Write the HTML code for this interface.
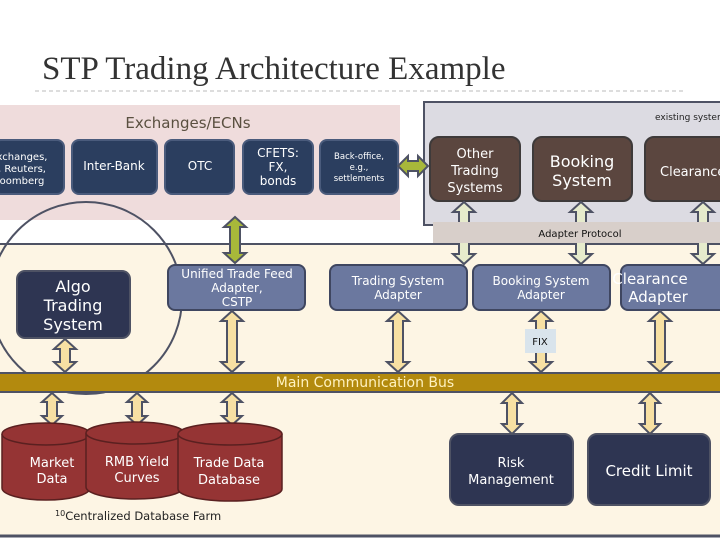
<!DOCTYPE html>
<html><head><meta charset="utf-8"><style>
body{margin:0;width:720px;height:540px;overflow:hidden;background:#fff}
svg{display:block}
text{font-family:"DejaVu Sans","Liberation Sans",sans-serif}
</style></head><body>
<svg width="720" height="540" viewBox="0 0 720 540" xmlns="http://www.w3.org/2000/svg">
<text x="42" y="79" font-size="33" fill="#333" style="font-family:'Liberation Serif',serif">STP Trading Architecture Example</text>
<line x1="35" y1="91" x2="685" y2="91" stroke="#bbb" stroke-dasharray="4,3"/>
<rect x="0" y="105" width="400" height="115" fill="#efdcdc"/>
<text x="188" y="128" font-size="15" fill="#5a5040" text-anchor="middle">Exchanges/ECNs</text>
<rect x="424" y="102" width="300" height="123" fill="#dcdbe2" stroke="#4e5264" stroke-width="2"/>
<text x="655" y="120" font-size="9" fill="#222">existing systems</text>
<rect x="0" y="244" width="720" height="292" fill="#fdf5e4"/>
<line x1="0" y1="244" x2="720" y2="244" stroke="#4e5264" stroke-width="2"/>
<line x1="0" y1="536" x2="720" y2="536" stroke="#4e5264" stroke-width="3"/>
<g fill="#2b3e5f" stroke="#4a5b7c" stroke-width="2">
<rect x="-6" y="140" width="70" height="54" rx="7"/>
<rect x="72" y="140" width="85" height="54" rx="7"/>
<rect x="165" y="140" width="69" height="54" rx="7"/>
<rect x="243" y="140" width="70" height="54" rx="7"/>
<rect x="320" y="140" width="78" height="54" rx="7"/>
</g>
<g fill="#fff" font-size="10" text-anchor="middle">
<text x="22" y="160">xchanges,</text><text x="22" y="172">, Reuters,</text><text x="22" y="184">oomberg</text>
<text x="114" y="170" font-size="12">Inter-Bank</text>
<text x="200" y="170" font-size="12">OTC</text>
<text x="278" y="157" font-size="12">CFETS:</text><text x="278" y="171" font-size="12">FX,</text><text x="278" y="185" font-size="12">bonds</text>
<text x="359" y="159" font-size="8.5">Back-office,</text><text x="359" y="170" font-size="8.5">e.g.,</text><text x="359" y="181" font-size="8.5">settlements</text>
</g>
<g fill="#5b463f" stroke="#3e3a3a" stroke-width="2">
<rect x="430" y="137" width="90" height="64" rx="9"/>
<rect x="533" y="137" width="99" height="64" rx="9"/>
<rect x="645" y="137" width="90" height="64" rx="9"/>
</g>
<g fill="#fff" text-anchor="middle">
<text x="475" y="158" font-size="13">Other</text><text x="475" y="175" font-size="13">Trading</text><text x="475" y="192" font-size="13">Systems</text>
<text x="582" y="167" font-size="16">Booking</text><text x="582" y="186" font-size="16">System</text>
<text x="660" y="176" font-size="13" text-anchor="start">Clearance</text>
</g>
<g fill="#e6ebcc" stroke="#4e5264" stroke-width="2">
<polygon points="464,202 475,212 469,212 469,254 475,254 464,264 453,254 459,254 459,212 453,212"/>
<polygon points="581,202 592,212 586,212 586,254 592,254 581,264 570,254 576,254 576,212 570,212"/>
<polygon points="703,202 714,212 708,212 708,254 714,254 703,264 692,254 698,254 698,212 692,212"/>
</g>
<rect x="433" y="222" width="290" height="21" fill="#d8cfca"/>
<text x="580" y="237" font-size="10" fill="#111" text-anchor="middle">Adapter Protocol</text>
<g fill="#a8b83a" stroke="#4e5264" stroke-width="2">
<polygon points="235,217 246,227 240,227 240,253 246,253 235,263 224,253 230,253 230,227 224,227"/>
<polygon points="398,166 408,156 408,161 418,161 418,156 428,166 418,176 418,171 408,171 408,176"/>
</g>
<circle cx="86" cy="298" r="96" fill="none" stroke="#4e5264" stroke-width="2"/>
<rect x="17" y="271" width="113" height="67" rx="8" fill="#2e3552" stroke="#4e5264" stroke-width="2"/>
<g fill="#6b789f" stroke="#3f4660" stroke-width="2">
<rect x="168" y="265" width="137" height="45" rx="7"/>
<rect x="330" y="265" width="137" height="45" rx="7"/>
<rect x="473" y="265" width="137" height="45" rx="7"/>
<rect x="621" y="265" width="110" height="45" rx="7"/>
</g>
<g fill="#fff" text-anchor="middle">
<text x="73" y="292" font-size="16">Algo</text><text x="73" y="311" font-size="16">Trading</text><text x="73" y="330" font-size="16">System</text>
<text x="237" y="278" font-size="12">Unified Trade Feed</text><text x="237" y="292" font-size="12">Adapter,</text><text x="237" y="306" font-size="12">CSTP</text>
<text x="398" y="285" font-size="12">Trading System</text><text x="398" y="299" font-size="12">Adapter</text>
<text x="541" y="285" font-size="12">Booking System</text><text x="541" y="299" font-size="12">Adapter</text>
<text x="650" y="284" font-size="15">Clearance</text><text x="658" y="302" font-size="15">Adapter</text>
</g>
<g fill="#f7e0a3" stroke="#4e5264" stroke-width="2">
<polygon points="65,339 76,349 70,349 70,362 76,362 65,372 54,362 60,362 60,349 54,349"/>
<polygon points="232,311 243,321 237,321 237,362 243,362 232,372 221,362 227,362 227,321 221,321"/>
<polygon points="398,311 409,321 403,321 403,362 409,362 398,372 387,362 393,362 393,321 387,321"/>
<polygon points="541,311 552,321 546,321 546,362 552,362 541,372 530,362 536,362 536,321 530,321"/>
<polygon points="660,311 671,321 665,321 665,362 671,362 660,372 649,362 655,362 655,321 649,321"/>
<polygon points="52,393 62,402 57,402 57,416 62,416 52,425 42,416 47,416 47,402 42,402"/>
<polygon points="137,393 147,402 142,402 142,416 147,416 137,425 127,416 132,416 132,402 127,402"/>
<polygon points="232,393 242,402 237,402 237,416 242,416 232,425 222,416 227,416 227,402 222,402"/>
<polygon points="512,393 522,403 517,403 517,424 522,424 512,434 502,424 507,424 507,403 502,403"/>
<polygon points="650,393 660,403 655,403 655,424 660,424 650,434 640,424 645,424 645,403 640,403"/>
</g>
<rect x="525" y="329" width="31" height="24" fill="#d9e4ec"/>
<text x="540" y="345" font-size="10" fill="#111" text-anchor="middle">FIX</text>
<rect x="-2" y="373" width="724" height="19" fill="#b38a0e" stroke="#4e5264" stroke-width="2"/>
<text x="365" y="387" font-size="14" fill="#fff2c0" text-anchor="middle">Main Communication Bus</text>
<g fill="#953434" stroke="#5a2020" stroke-width="1.5">
<path d="M2,434 v54 a44,12 0 0 0 88,0 v-54"/><ellipse cx="46" cy="434" rx="44" ry="11"/>
<path d="M86,433 v54 a49,12 0 0 0 98,0 v-54"/><ellipse cx="135" cy="433" rx="49" ry="11"/>
<path d="M178,434 v55 a52,12 0 0 0 104,0 v-55"/><ellipse cx="230" cy="434" rx="52" ry="11"/>
</g>
<g fill="#fff" font-size="13" text-anchor="middle">
<text x="52" y="467">Market</text><text x="52" y="483">Data</text>
<text x="137" y="466">RMB Yield</text><text x="137" y="482">Curves</text>
<text x="229" y="467">Trade Data</text><text x="229" y="484">Database</text>
</g>
<text x="55" y="520" font-size="11.5" fill="#222"><tspan font-size="8" dy="-4">10</tspan><tspan dy="4">Centralized Database Farm</tspan></text>
<g fill="#2e3552" stroke="#4e5264" stroke-width="2">
<rect x="450" y="434" width="123" height="71" rx="9"/>
<rect x="588" y="434" width="122" height="71" rx="9"/>
</g>
<g fill="#fff" text-anchor="middle">
<text x="511" y="467" font-size="13">Risk</text><text x="511" y="484" font-size="13">Management</text>
<text x="649" y="476" font-size="15">Credit Limit</text>
</g>
</svg>
</body></html>
